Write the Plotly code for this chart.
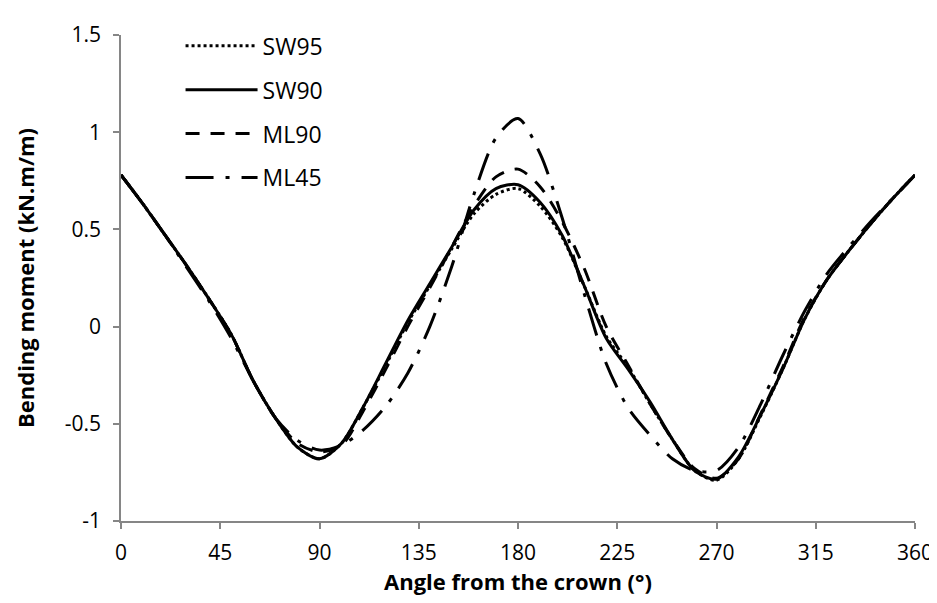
import plotly.graph_objects as go

angles = [0, 10, 20, 30, 40, 50, 60, 70, 80, 90, 100, 110, 120, 130, 140, 150, 160, 170, 180,
          190, 200, 210, 220, 230, 240, 250, 260, 270, 280, 290, 300, 310, 320, 330, 340, 350, 360]

sw95 = [0.78, 0.63, 0.47, 0.31, 0.14, -0.04, -0.28, -0.47, -0.62, -0.68, -0.60, -0.41, -0.20, 0.02,
        0.21, 0.40, 0.58, 0.68, 0.71, 0.62, 0.46, 0.21, -0.05, -0.21, -0.40, -0.58, -0.74, -0.79,
        -0.68, -0.46, -0.22, 0.04, 0.24, 0.39, 0.53, 0.66, 0.78]
sw90 = [0.78, 0.63, 0.47, 0.31, 0.14, -0.04, -0.28, -0.47, -0.62, -0.68, -0.60, -0.41, -0.19, 0.03,
        0.22, 0.41, 0.60, 0.71, 0.73, 0.64, 0.47, 0.21, -0.06, -0.22, -0.39, -0.58, -0.74, -0.785,
        -0.67, -0.455, -0.22, 0.04, 0.24, 0.39, 0.53, 0.66, 0.78]
ml90 = [0.78, 0.63, 0.47, 0.31, 0.14, -0.04, -0.28, -0.47, -0.60, -0.645, -0.61, -0.43, -0.22, 0.0,
        0.20, 0.41, 0.62, 0.77, 0.81, 0.72, 0.54, 0.30, 0.0, -0.20, -0.40, -0.58, -0.73, -0.78,
        -0.68, -0.45, -0.21, 0.05, 0.24, 0.39, 0.53, 0.66, 0.78]
ml45 = [0.78, 0.63, 0.47, 0.30, 0.13, -0.06, -0.28, -0.47, -0.585, -0.635, -0.61, -0.53, -0.41, -0.24,
        0.0, 0.31, 0.68, 0.97, 1.07, 0.89, 0.56, 0.17, -0.19, -0.42, -0.56, -0.68, -0.74, -0.74,
        -0.62, -0.40, -0.15, 0.08, 0.27, 0.41, 0.54, 0.66, 0.78]

x_ticks = [0, 45, 90, 135, 180, 225, 270, 315, 360]
y_ticks = [-1, -0.5, 0, 0.5, 1, 1.5]
y_ticktext = ["-1", "-0.5", "0", "0.5", "1", "1.5"]

series = [
    ("SW95", sw95, "3px,3px"),
    ("SW90", sw90, "solid"),
    ("ML90", ml90, "14px,11px"),
    ("ML45", ml45, "28px,12px,4px,12px"),
]

fig = go.Figure()
for name, vals, dash in series:
    fig.add_trace(go.Scatter(
        x=angles, y=vals, name=name, mode="lines", legendgroup=name,
        line=dict(color="black", width=3, dash=dash, shape="spline", smoothing=0.8),
    ))

font_family = "Open Sans, DejaVu Sans, sans-serif"
axis_color = "#868686"

fig.update_layout(
    width=937, height=603,
    margin=dict(l=113, r=22, t=18, b=90),
    paper_bgcolor="white", plot_bgcolor="white",
    font=dict(family=font_family, size=21, color="black"),
    showlegend=True,
    legend=dict(x=0.075, y=1.022, xanchor="left", yanchor="top",
                traceorder="grouped", tracegroupgap=11,
                itemwidth=72, bgcolor="rgba(0,0,0,0)",
                font=dict(size=23, family=font_family)),
    xaxis=dict(range=[0, 360], tickvals=x_ticks, showgrid=False, zeroline=False,
               showline=True, linecolor=axis_color, linewidth=1.5,
               ticks="outside", ticklen=6, tickcolor=axis_color, tickwidth=1.5,
               ticklabelstandoff=6,
               tickfont=dict(size=21, family=font_family),
               title=dict(text="<b>Angle from the crown (°)</b>", font=dict(size=22, family=font_family),
                          standoff=8)),
    yaxis=dict(range=[-1, 1.5], tickvals=y_ticks, ticktext=y_ticktext, showgrid=False, zeroline=False,
               showline=True, linecolor=axis_color, linewidth=1.5,
               ticks="outside", ticklen=6, tickcolor=axis_color, tickwidth=1.5,
               ticklabelstandoff=8,
               tickfont=dict(size=21, family=font_family),
               title=dict(text="<b>Bending moment (kN.m/m)</b>", font=dict(size=22, family=font_family),
                          standoff=24)),
)

fig.write_html("out.html")
